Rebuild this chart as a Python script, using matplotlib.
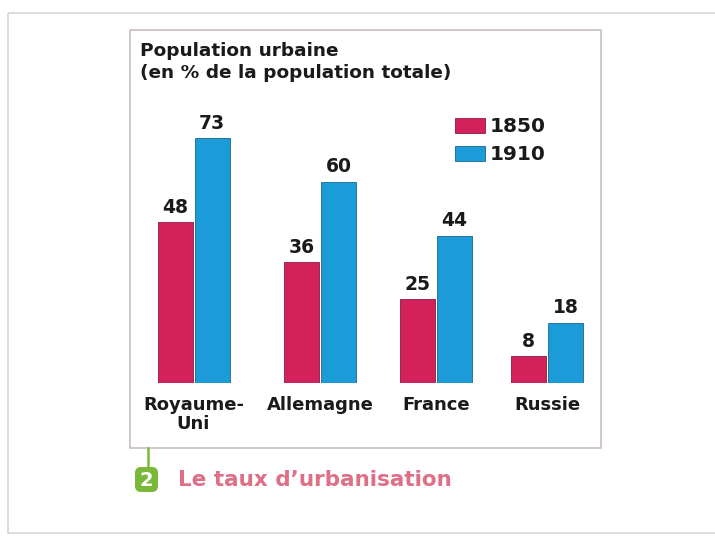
import matplotlib.pyplot as plt
from matplotlib.patches import Rectangle, FancyBboxPatch
from matplotlib.lines import Line2D

# data
countries = ["Royaume-\nUni", "Allemagne", "France", "Russie"]
years = ["1850", "1910"]
values_1850 = [48, 36, 25, 8]
values_1910 = [73, 60, 44, 18]

title = "Population urbaine\n(en % de la population totale)"
caption = "Le taux d\u2019urbanisation"
badge = "2"

# layout (pixels)
W, H = 715, 537
group_x = [193.5, 320, 436, 547]
bar_w = 35
gap = 2
baseline = 383
px_per_unit = 3.35

c1850 = "#d2215b"
c1910 = "#1b9bd7"

fig = plt.figure(figsize=(W / 100, H / 100), dpi=100)
fig.patch.set_facecolor("white")

# background axes in pixel coordinates
bg = fig.add_axes([0, 0, 1, 1])
bg.set_xlim(0, W)
bg.set_ylim(H, 0)
bg.axis("off")

# outer frame
bg.add_patch(Rectangle((8, 13), W, 520, fill=False, edgecolor="#d6d6d6", lw=1.2))
# inner frame
bg.add_patch(Rectangle((130, 30), 471, 418, fill=False, edgecolor="#cbbfc3", lw=1.2))

# chart axes
ax = fig.add_axes([130 / W, (H - baseline) / H, 471 / W, (baseline - 30) / H])
ax.set_xlim(130, 601)
ax.set_ylim(0, (baseline - 30) / px_per_unit)
ax.axis("off")

x1 = [g - bar_w / 2 - gap / 2 for g in group_x]
x2 = [g + bar_w / 2 + gap / 2 for g in group_x]
b1 = ax.bar(x1, values_1850, width=bar_w, color=c1850, edgecolor="#8a1a3d", lw=0.6)
b2 = ax.bar(x2, values_1910, width=bar_w, color=c1910, edgecolor="#1a6690", lw=0.6)

for bars in (b1, b2):
    for rect in bars:
        v = rect.get_height()
        ax.annotate(f"{v:g}", (rect.get_x() + rect.get_width() / 2, v),
                    xytext=(0, 4), textcoords="offset points",
                    ha="center", va="bottom", fontsize=13.5, fontweight="bold",
                    color="#1a1a1a")

for g, name in zip(group_x, countries):
    bg.text(g, 396, name, ha="center", va="top", fontsize=13, fontweight="bold",
            color="#1a1a1a", linespacing=1.05)

# title
bg.text(140, 42, title, ha="left", va="top", fontsize=13.3, fontweight="bold",
        color="#1a1a1a", linespacing=1.3)

# legend
for i, (lab, col, ec) in enumerate(zip(years, [c1850, c1910], ["#8a1a3d", "#1a6690"])):
    y = 118 + i * 28
    bg.add_patch(Rectangle((455, y), 30, 15, facecolor=col, edgecolor=ec, lw=0.6))
    bg.text(490, y + 8, lab, ha="left", va="center", fontsize=14.5, fontweight="bold",
            color="#1a1a1a")

# caption
bg.add_line(Line2D([148, 148], [448, 468], color="#7ab83a", lw=1.8))
bg.add_patch(FancyBboxPatch((135, 467), 23, 25, boxstyle="round,pad=0,rounding_size=6",
                            facecolor="#7ab83a", edgecolor="none"))
bg.text(146.5, 480, badge, ha="center", va="center", fontsize=14, fontweight="bold",
        color="white")
bg.text(178, 480, caption, ha="left", va="center", fontsize=15.5, fontweight="bold",
        color="#de6f86")

fig.savefig("out.png", dpi=100)
